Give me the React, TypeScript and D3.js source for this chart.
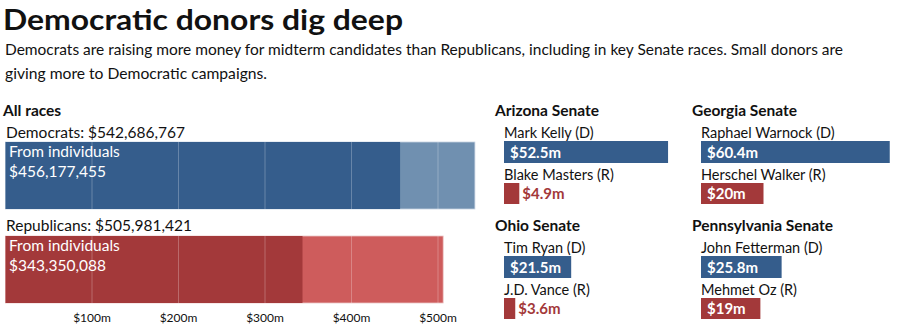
import React from "react";
import * as d3 from "d3";

const parties = ["Democrats", "Republicans"];
const partyTotals = [542686767, 505981421];
const partyIndividuals = [456177455, 343350088];
const axisTicks = [100, 200, 300, 400, 500];

const races = ["Arizona Senate", "Georgia Senate", "Ohio Senate", "Pennsylvania Senate"];
const demCandidates = ["Mark Kelly (D)", "Raphael Warnock (D)", "Tim Ryan (D)", "John Fetterman (D)"];
const demAmounts = [52.5, 60.4, 21.5, 25.8];
const repCandidates = ["Blake Masters (R)", "Herschel Walker (R)", "J.D. Vance (R)", "Mehmet Oz (R)"];
const repAmounts = [4.9, 20, 3.6, 19];

const FONT = "Lato, 'Open Sans', sans-serif";
const DARK = ["#355d8c", "#a3393a"];
const LIGHT = ["#7090b0", "#ce5c5c"];

const fmt = d3.format("$,");

export default function App() {
  const x = d3.scaleLinear().domain([0, 500]).range([5.5, 438]);
  const xr = d3.scaleLinear().domain([0, 60]).range([0, 187.5]);
  const barTops = [142, 236];
  const barH = 67;
  const labelBase = [138, 231];

  const panelX = [504, 701, 504, 701];
  const panelTitleY = [116, 116, 231, 231];

  return (
    <svg width={900} height={335} style={{ position: "absolute", left: 0, top: 0, background: "#fff" }} fontFamily={FONT}>
      <text x={3} y={29.5} fontSize={29} fontWeight={700} textLength={400} lengthAdjust="spacingAndGlyphs" fill="#111">
        Democratic donors dig deep
      </text>
      <text x={5} y={55} fontSize={16} fill="#111" textLength={838} lengthAdjust="spacingAndGlyphs">
        Democrats are raising more money for midterm candidates than Republicans, including in key Senate races. Small donors are
      </text>
      <text x={5} y={78.5} fontSize={16} fill="#111" textLength={262} lengthAdjust="spacingAndGlyphs">
        giving more to Democratic campaigns.
      </text>

      <text x={3} y={116} fontSize={15.5} fontWeight={700} fill="#111">All races</text>

      {parties.map((p, i) => {
        const y0 = barTops[i];
        const tot = partyTotals[i] / 1e6;
        const ind = partyIndividuals[i] / 1e6;
        return (
          <g key={p}>
            <text x={6} y={labelBase[i]} fontSize={15.5} fill="#111">
              {p}: {fmt(partyTotals[i])}
            </text>
            <rect x={x(0)} y={y0} width={x(tot) - x(0)} height={barH} fill={LIGHT[i]} stroke={i === 0 ? "#c6d3e2" : "#ecc6c6"} strokeWidth={0.8} />
            <rect x={x(0)} y={y0} width={x(ind) - x(0)} height={barH} fill={DARK[i]} />
            {axisTicks.filter((t) => t < tot).map((t) => (
              <line key={t} x1={x(t)} x2={x(t)} y1={y0} y2={y0 + barH} stroke="#ffffff" strokeOpacity={0.25} strokeWidth={1} />
            ))}
            <text x={9} y={y0 + 15} fontSize={15.5} fill="#fff">From individuals</text>
            <text x={9} y={y0 + 35} fontSize={15.5} fill="#fff">{fmt(partyIndividuals[i])}</text>
          </g>
        );
      })}

      {axisTicks.map((t) => (
        <text key={t} x={x(t)} y={322} fontSize={12} textAnchor="middle" fill="#111">
          ${t}m
        </text>
      ))}

      {races.map((r, i) => {
        const px = panelX[i];
        const ty = panelTitleY[i];
        const dw = xr(demAmounts[i]);
        const rw = xr(repAmounts[i]);
        const repInside = rw > 40;
        return (
          <g key={r}>
            <text x={px - 9} y={ty} fontSize={15.5} fontWeight={700} fill="#111">{r}</text>
            <text x={px} y={ty + 22} fontSize={14.5} fill="#111">{demCandidates[i]}</text>
            <rect x={px} y={ty + 25} width={dw} height={22} fill={DARK[0]} />
            <text x={px + 6} y={ty + 42} fontSize={15} fontWeight={700} fill="#fff">${demAmounts[i]}m</text>
            <text x={px} y={ty + 64} fontSize={14.5} fill="#111">{repCandidates[i]}</text>
            <rect x={px} y={ty + 67} width={rw} height={21} fill={DARK[1]} />
            <text
              x={repInside ? px + 6 : px + rw + 3}
              y={ty + 83}
              fontSize={15}
              fontWeight={700}
              fill={repInside ? "#fff" : DARK[1]}
            >
              ${repAmounts[i]}m
            </text>
          </g>
        );
      })}
    </svg>
  );
}
